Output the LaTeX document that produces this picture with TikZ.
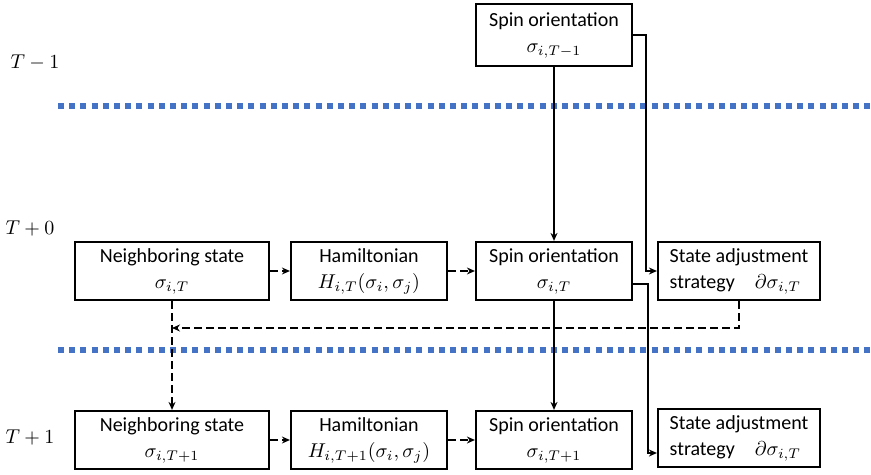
\documentclass[tikz,border=0pt]{standalone}
\usepackage{amsmath}
\usepackage{fontspec}
\setmainfont{Carlito}
\usepackage{tikz}
\usetikzlibrary{arrows.meta}
\definecolor{sepblue}{RGB}{68,114,196}
\newcommand{\RowA}{271}
\newcommand{\RowB}{440}

\tikzset{
  box/.style={draw, line width=1.1pt, minimum height=29pt, align=center,
    inner sep=2pt, font=\fontsize{10}{13}\selectfont},
  link/.style={line width=0.75pt, -{Stealth[length=4pt,width=3.5pt]}},
  dlink/.style={link, dash pattern=on 4pt off 2pt},
  sepline/.style={line width=3pt, sepblue, dash pattern=on 3pt off 2.6pt},
  tlabel/.style={font=\fontsize{10}{12}\selectfont}
}

\begin{document}
\begin{tikzpicture}[x=0.5pt,y=-0.5pt]
\useasboundingbox (0,0) rectangle (871,475);

% time separators
\draw [sepline] (58,106) -- (871,106);
\draw [sepline] (58,350) -- (871,350);

\node [tlabel] (tm) at (35,63) {$T-1$};
\node [tlabel] (t0) at (30,229) {$T+0$};
\node [tlabel] (tp) at (30,437) {$T+1$};

% step T-1
\node [box, minimum width=78pt, minimum height=31pt] (spinm) at (554,35) {Spin orientation\\$\sigma_{i,T-1}$};

% step T+0
\node [box, minimum width=97pt] (neigh0) at (172,\RowA) {Neighboring state\\$\sigma_{i,T}$};
\node [box, minimum width=78pt] (ham0) at (369,\RowA) {Hamiltonian\\$H_{i,T}(\sigma_i,\sigma_j)$};
\node [box, minimum width=78pt] (spin0) at (554,\RowA) {Spin orientation\\$\sigma_{i,T}$};
\node [box, minimum width=81pt, align=left] (state0) at (739,\RowA) {State adjustment\\strategy\quad$\partial\sigma_{i,T}$};

% step T+1
\node [box, minimum width=97pt] (neigh1) at (172,\RowB) {Neighboring state\\$\sigma_{i,T+1}$};
\node [box, minimum width=78pt] (ham1) at (369,\RowB) {Hamiltonian\\$H_{i,T+1}(\sigma_i,\sigma_j)$};
\node [box, minimum width=78pt] (spin1) at (554,\RowB) {Spin orientation\\$\sigma_{i,T+1}$};
\node [box, minimum width=81pt, align=left] (state1) at (739,\RowB-2) {State adjustment\\strategy\quad$\partial\sigma_{i,T}$};

% links
\draw [link] (spinm.south) -- (spin0.north);
\draw [link] (spinm.east) -- ++(13,0) |- (state0.west);
\draw [link] (spin0.south) -- (spin1.north);
\draw [link] ([yshift=-6.5pt]spin0.east) -- ++(15,0) |- ([yshift=-7.5pt]state1.west);

\draw [dlink] (neigh0.east) -- (ham0.west);
\draw [dlink] (ham0.east) -- (spin0.west);
\draw [dlink] (neigh1.east) -- (ham1.west);
\draw [dlink] (ham1.east) -- (spin1.west);

%\draw [dlink] (state0.south) |- (neigh0.south);
\coordinate (back) at (739,328);
\draw [dlink] (state0.south) -- (back) -- (neigh0.south |- back);
\draw [dlink] (neigh0.south) -- (neigh1.north);

\end{tikzpicture}
\end{document}
